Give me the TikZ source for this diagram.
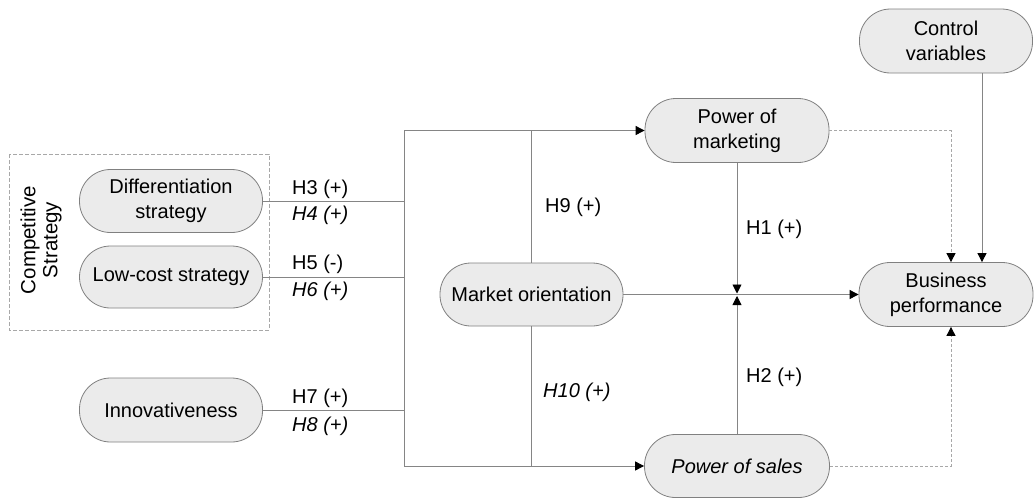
\documentclass[tikz,border=0pt]{standalone}
\usepackage{fontspec}
\setmainfont{Liberation Sans}
\usetikzlibrary{arrows.meta,calc}
\definecolor{boxfill}{HTML}{EBEBEB}
\definecolor{boxdraw}{HTML}{808080}
\definecolor{linec}{HTML}{858585}
\definecolor{dashc}{HTML}{A8A8A8}
\definecolor{txt}{HTML}{000000}
\begin{document}
\begin{tikzpicture}[x=1pt,y=-1pt,
  box/.style={draw=boxdraw,fill=boxfill,rounded corners=31pt,inner sep=0pt,
    minimum width=183pt,minimum height=63pt,align=center,text=txt,
    font=\fontsize{20}{25}\selectfont,line width=0.8pt},
  conn/.style={draw=linec,line width=0.9pt},
  dconn/.style={draw=dashc,line width=0.9pt,dash pattern=on 3pt off 2pt},
  arr/.style={-{Triangle[length=9pt,width=9pt,color=black]}},
  lab/.style={anchor=west,inner sep=0pt,text=txt,font=\fontsize{20}{25}\selectfont},
  ilab/.style={lab,font=\fontsize{20}{25}\selectfont\itshape}]
\useasboundingbox (0,0) rectangle (1034,498);
% group box
\draw[dconn,dash pattern=on 4pt off 2pt] (9,154) rectangle (269,330);
\node[rotate=90,align=center,text=txt,font=\fontsize{20.5}{22}\selectfont,inner sep=0pt] (cs) at (41,240) {Competitive\\Strategy};
% nodes
\node[box] (diff) at (171,201) {Differentiation\\strategy};
\node[box,minimum height=62pt] (low) at (171,277) {Low-cost strategy};
\node[box,minimum height=64pt] (inno) at (171,410) {Innovativeness};
\node[box] (mo) at (531.5,294.5) {Market orientation};
\node[box,minimum width=184pt,minimum height=64pt] (pom) at (737,130.5) {Power of\\marketing};
\node[box,minimum width=185pt] (pos) at (737,466) {\itshape Power of sales};
\node[box,minimum width=174pt,minimum height=64pt] (bp) at (946,294.5) {Business\\performance};
\node[box,minimum width=173pt,minimum height=64pt] (cv) at (946,41) {Control\\variables};
% bus coordinates
\coordinate (busT) at (404,130.5);
\coordinate (busB) at (404,466);
\coordinate (J) at (737,294.5);
% connectors
\draw[conn] (diff.east) -- (diff.east -| busT);
\draw[conn] (low.east) -- (low.east -| busT);
\draw[conn] (inno.east) -- (inno.east -| busT);
\draw[conn] (busT) -- (busB);
\draw[conn,arr] (busT) -- (pom.west);
\draw[conn,arr] (busB) -- (pos.west);
\draw[conn] (mo.north) -- (mo.north |- busT);
\draw[conn] (mo.south) -- (mo.south |- busB);
\draw[conn,arr] (mo.east) -- (bp.west);
\draw[conn,arr] (pom.south) -- ([yshift=1pt]J);
\draw[conn,arr] (pos.north) -- ([yshift=-1.5pt]J);
\draw[dconn,arr] (pom.east) -| ([xshift=5pt]bp.north);
\draw[dconn,arr] (pos.east) -| ([xshift=5pt]bp.south);
\draw[conn,arr] ([xshift=36pt]cv.south) -- ([xshift=36pt]bp.north);
% labels
\node[lab] (h3) at (292,189) {H3 (+)};
\node[ilab] (h4) at (292,215) {H4 (+)};
\node[lab] (h5) at (292,264) {H5 (-)};
\node[ilab] (h6) at (292,291) {H6 (+)};
\node[lab] (h7) at (292,398) {H7 (+)};
\node[ilab] (h8) at (292,426) {H8 (+)};
\node[lab] (h9) at (545,207) {H9 (+)};
\node[ilab] (h10) at (543,392) {H10 (+)};
\node[lab] (h1) at (746,229) {H1 (+)};
\node[lab] (h2) at (746,377) {H2 (+)};
\end{tikzpicture}
\end{document}
